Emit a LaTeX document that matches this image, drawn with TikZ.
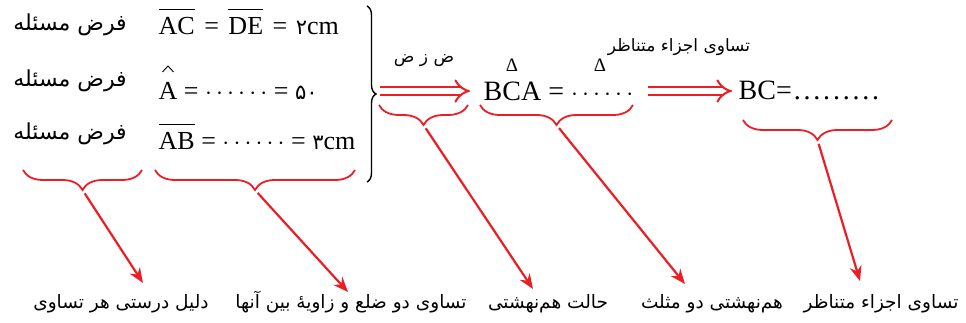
\documentclass[tikz,border=0pt]{standalone}
\usepackage{fontspec}
\setmainfont{Liberation Serif}
\newfontfamily\farsi[Script=Arabic]{DejaVu Sans}
\TeXXeTstate=1
\usetikzlibrary{arrows.meta,decorations.pathreplacing}
\definecolor{marker}{RGB}{235,30,38}
\newcommand{\seg}[1]{\leavevmode\vbox{\hrule height 1.2pt\kern 8pt\hbox{#1}}}
\newcommand{\fa}[1]{\beginR #1\endR}
\newcommand{\fdig}[1]{{\farsi\fontsize{21}{24}\selectfont #1}}
\newcommand{\spdots}[1]{\foreach \i in {1,...,#1}{.\kern2.8pt}}

\begin{document}
\begin{tikzpicture}[x=1pt,y=-1pt,line width=1.4pt,
  every node/.style={inner sep=0pt},
  lt/.style={font=\fontsize{26}{30}\selectfont,anchor=base west},
  big/.style={font=\fontsize{28}{32}\selectfont,anchor=base west},
  hyp/.style={font=\farsi\fontsize{22}{26}\selectfont,anchor=base},
  note/.style={font=\farsi\fontsize{17}{20}\selectfont,anchor=base},
  why/.style={font=\farsi\fontsize{18.5}{22}\selectfont,anchor=base},
  tri/.style={font=\fontsize{19}{22}\selectfont,anchor=base},
  curly/.style={marker,line width=1.8pt,decorate,decoration={brace,mirror,amplitude=20pt}},
  pointer/.style={marker,line width=2.2pt,shorten <=4pt,-{Stealth[length=15pt,width=12pt]}},
  implies/.style={marker,line width=2pt,double distance=6pt,-{Implies}}]
  \useasboundingbox (0,0) rectangle (966,323);
  % fardhe masale
  \node[hyp] (h1) at (70,31) {\fa{فرض مسئله}};
  \node[hyp] (h2) at (70,87) {\fa{فرض مسئله}};
  \node[hyp] (h3) at (70,140) {\fa{فرض مسئله}};
  \node[lt] (r1) at (158,35) {\seg{AC}\hspace{3pt} = \hspace{3pt}\seg{DE}\hspace{3pt} = \hspace{2pt}\fdig{۲}cm};
  \node[lt] (r2) at (158,100) {A = $\cdots\cdots$ = \fdig{۵۰}};
  \node[lt] (r3) at (158,150) {\seg{AB} = $\cdots\cdots$ = \fdig{۳}cm};
  \draw[line width=0.9pt] (162.5,72) -- (168,66) -- (173.5,72);
  % akolade siah
  \draw[decorate,decoration={brace,amplitude=9pt}] (367,6) -- (367,182);
  \coordinate (bt) at (376,91);
  % natije
  \node[big] (bca) at (483,101) {BCA = $\cdots\cdots$};
  \node[big] (bc) at (738,100) {BC=\kern2pt\spdots{9}};
  \node[tri] (d1) at (512,72) {Δ};
  \node[tri] (d2) at (600,72) {Δ};
  \node[note] (n1) at (424,63) {\fa{ض ز ض}};
  \node[note] (n2) at (679,52) {\fa{تساوی اجزاء متناظر}};
  \draw[implies,shorten <=4pt,shorten >=13pt] (bt) -- (bca.west |- bt);
  \draw[implies,shorten <=14pt,shorten >=6pt] (bca.east |- bt) -- (bc.west |- bt);
  % akolade qermez
  \foreach \a/\b/\y/\n in {23/142/170/1,155/355/170/2,379/468/105/3,480/633/105/4,743/892/120/5}{
    \draw[curly] (\a,\y) -- (\b,\y);
    \coordinate (t\n) at ({(\a+\b)/2},\y+20);
  }
  % tozihat
  \node[why] (w1) at (121,308) {\fa{دلیل درستی هر تساوی}};
  \node[why] (w2) at (351,308) {\fa{تساوی دو ضلع و زاویهٔ بین آنها}};
  \node[why] (w3) at (548,308) {\fa{حالت هم‌نهشتی}};
  \node[why] (w4) at (712,308) {\fa{هم‌نهشتی دو مثلث}};
  \node[why] (w5) at (881,308) {\fa{تساوی اجزاء متناظر}};
  \coordinate (e1) at (143,283);
  \coordinate (e2) at (348,292);
  \coordinate (e3) at (533,289);
  \coordinate (e4) at (685,284);
  \coordinate (e5) at (860,281);
  \foreach \n in {1,...,5}{
    \draw[pointer] (t\n) -- (e\n);
  }
\end{tikzpicture}
\end{document}
